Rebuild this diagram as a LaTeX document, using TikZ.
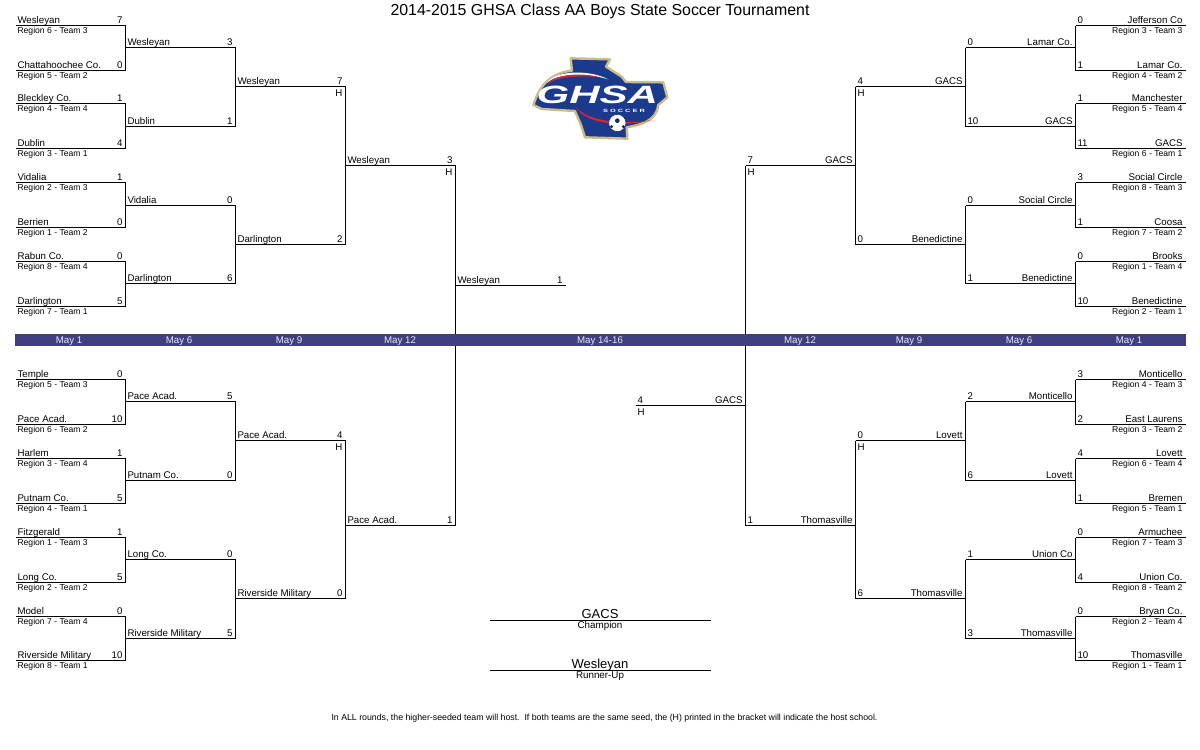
\documentclass[tikz,border=0pt]{standalone}
\usepackage{fontspec}
\setmainfont{Liberation Sans}
\definecolor{band}{HTML}{3F3F7F}
\definecolor{lgblue}{HTML}{1B3A8C}
\definecolor{lgnavy}{HTML}{14286E}
\definecolor{lggold}{HTML}{C9BC8A}
\definecolor{lgred}{HTML}{D8243A}
\tikzset{
  txt/.style={inner sep=0pt,outer sep=0pt,font=\fontsize{9.7}{10}\selectfont,text=black},
  sub/.style={inner sep=0pt,outer sep=0pt,font=\fontsize{8.6}{9}\selectfont,text=black},
  wire/.style={draw=black,line width=1pt,line cap=square},
  datelab/.style={inner sep=0pt,font=\fontsize{9.7}{10}\selectfont,text=white!88!band,anchor=base}
}
% left-side slot: id, x1, x2, y, name, score
\newcommand\slotW[6]{%
  \coordinate (#1-a) at (#2,#4+.5);
  \coordinate (#1-b) at (#3,#4+.5);
  \draw[wire] (#1-a) -- (#1-b);
  \node[txt,anchor=base west] (#1-t) at ([shift={(2,-2)}]#1-a) {#5};
  \node[txt,anchor=base east] (#1-s) at ([shift={(-3,-2)}]#1-b) {#6};
}
% right-side slot: id, x1, x2, y, name, score
\newcommand\slotE[6]{%
  \coordinate (#1-a) at (#2,#4+.5);
  \coordinate (#1-b) at (#3,#4+.5);
  \draw[wire] (#1-a) -- (#1-b);
  \node[txt,anchor=base east] (#1-t) at ([shift={(-3,-2)}]#1-b) {#5};
  \node[txt,anchor=base west] (#1-s) at ([shift={(2,-2)}]#1-a) {#6};
}
\newcommand\teamW[6]{\slotW{#1}{15.5}{125.5}{#2}{#3}{#4}%
  \node[sub,anchor=base west] (#1-r) at ([shift={(2,8)}]#1-a) {Region #5 - Team #6};}
\newcommand\teamE[6]{\slotE{#1}{1075.5}{1185.5}{#2}{#3}{#4}%
  \node[sub,anchor=base east] (#1-r) at ([shift={(-3,8)}]#1-b) {Region #5 - Team #6};}
\newcommand\hostW[1]{\node[txt,anchor=base east] (#1-h) at ([shift={(-3,9.5)}]#1-b) {H};}
\newcommand\hostE[1]{\node[txt,anchor=base west] (#1-h) at ([shift={(2,9.5)}]#1-a) {H};}
\begin{document}
\begin{tikzpicture}[x=1pt,y=-1pt]
\useasboundingbox[fill=white] (0,0) rectangle (1200,750);
\node[inner sep=0pt,anchor=base,font=\fontsize{15.9}{18}\selectfont] (title) at (600,15) {2014-2015 GHSA Class AA Boys State Soccer Tournament};

% ---------- left top
\teamW{a1}{25}{Wesleyan}{7}{6}{3}
\teamW{a2}{70}{Chattahoochee Co.}{0}{5}{2}
\teamW{a3}{103}{Bleckley Co.}{1}{4}{4}
\teamW{a4}{148}{Dublin}{4}{3}{1}
\teamW{a5}{182}{Vidalia}{1}{2}{3}
\teamW{a6}{227}{Berrien}{0}{1}{2}
\teamW{a7}{261}{Rabun Co.}{0}{8}{4}
\teamW{a8}{306}{Darlington}{5}{7}{1}
\slotW{b1}{125.5}{235.5}{47}{Wesleyan}{3}
\slotW{b2}{125.5}{235.5}{126}{Dublin}{1}
\slotW{b3}{125.5}{235.5}{205}{Vidalia}{0}
\slotW{b4}{125.5}{235.5}{283}{Darlington}{6}
\slotW{c1}{235.5}{345.5}{86}{Wesleyan}{7}\hostW{c1}
\slotW{c2}{235.5}{345.5}{244}{Darlington}{2}
\slotW{d1}{345.5}{455.5}{165}{Wesleyan}{3}\hostW{d1}
\slotW{f1}{455.5}{565.5}{285}{Wesleyan}{1}
% ---------- left bottom
\teamW{g1}{379}{Temple}{0}{5}{3}
\teamW{g2}{424}{Pace Acad.}{10}{6}{2}
\teamW{g3}{458}{Harlem}{1}{3}{4}
\teamW{g4}{503}{Putnam Co.}{5}{4}{1}
\teamW{g5}{537}{Fitzgerald}{1}{1}{3}
\teamW{g6}{582}{Long Co.}{5}{2}{2}
\teamW{g7}{616}{Model}{0}{7}{4}
\teamW{g8}{660}{Riverside Military}{10}{8}{1}
\slotW{h1}{125.5}{235.5}{401}{Pace Acad.}{5}
\slotW{h2}{125.5}{235.5}{480}{Putnam Co.}{0}
\slotW{h3}{125.5}{235.5}{559}{Long Co.}{0}
\slotW{h4}{125.5}{235.5}{638}{Riverside Military}{5}
\slotW{i1}{235.5}{345.5}{440}{Pace Acad.}{4}\hostW{i1}
\slotW{i2}{235.5}{345.5}{598}{Riverside Military}{0}
\slotW{j1}{345.5}{455.5}{525}{Pace Acad.}{1}
% ---------- right top
\teamE{k1}{25}{Jefferson Co}{0}{3}{3}
\teamE{k2}{70}{Lamar Co.}{1}{4}{2}
\teamE{k3}{103}{Manchester}{1}{5}{4}
\teamE{k4}{148}{GACS}{11}{6}{1}
\teamE{k5}{182}{Social Circle}{3}{8}{3}
\teamE{k6}{227}{Coosa}{1}{7}{2}
\teamE{k7}{261}{Brooks}{0}{1}{4}
\teamE{k8}{306}{Benedictine}{10}{2}{1}
\slotE{l1}{965.5}{1075.5}{47}{Lamar Co.}{0}
\slotE{l2}{965.5}{1075.5}{126}{GACS}{10}
\slotE{l3}{965.5}{1075.5}{205}{Social Circle}{0}
\slotE{l4}{965.5}{1075.5}{283}{Benedictine}{1}
\slotE{m1}{855.5}{965.5}{86}{GACS}{4}\hostE{m1}
\slotE{m2}{855.5}{965.5}{244}{Benedictine}{0}
\slotE{n1}{745.5}{855.5}{165}{GACS}{7}\hostE{n1}
\slotE{o1}{635.5}{745.5}{405}{GACS}{4}\hostE{o1}
% ---------- right bottom
\teamE{p1}{379}{Monticello}{3}{4}{3}
\teamE{p2}{424}{East Laurens}{2}{3}{2}
\teamE{p3}{458}{Lovett}{4}{6}{4}
\teamE{p4}{503}{Bremen}{1}{5}{1}
\teamE{p5}{537}{Armuchee}{0}{7}{3}
\teamE{p6}{582}{Union Co.}{4}{8}{2}
\teamE{p7}{616}{Bryan Co.}{0}{2}{4}
\teamE{p8}{660}{Thomasville}{10}{1}{1}
\slotE{q1}{965.5}{1075.5}{401}{Monticello}{2}
\slotE{q2}{965.5}{1075.5}{480}{Lovett}{6}
\slotE{q3}{965.5}{1075.5}{559}{Union Co}{1}
\slotE{q4}{965.5}{1075.5}{638}{Thomasville}{3}
\slotE{r1}{855.5}{965.5}{440}{Lovett}{0}\hostE{r1}
\slotE{r2}{855.5}{965.5}{598}{Thomasville}{6}
\slotE{s1}{745.5}{855.5}{525}{Thomasville}{1}

% ---------- vertical connectors
\foreach \u/\v in {a1/a2,a3/a4,a5/a6,a7/a8,b1/b2,b3/b4,c1/c2,d1/j1,g1/g2,g3/g4,g5/g6,g7/g8,h1/h2,h3/h4,i1/i2}
  \draw[wire] (\u-b) -- (\v-b);
\foreach \u/\v in {k1/k2,k3/k4,k5/k6,k7/k8,l1/l2,l3/l4,m1/m2,n1/s1,p1/p2,p3/p4,p5/p6,p7/p8,q1/q2,q3/q4,r1/r2}
  \draw[wire] (\u-a) -- (\v-a);

% ---------- date band
\fill[band] (15,334) rectangle (1186,346);
\foreach \i/\x/\d in {1/69/May 1,2/179/May 6,3/289/May 9,4/400/May 12,5/600/May 14-16,6/800/May 12,7/909/May 9,8/1019/May 6,9/1129/May 1}
  \node[datelab] (date\i) at (\x,343.5) {\d};

% ---------- results
\coordinate (cha) at (490,620.5); \coordinate (chb) at (711,620.5);
\draw[wire,line cap=butt] (cha) -- (chb);
\node[inner sep=0pt,anchor=base,font=\fontsize{13}{14}\selectfont] (champ) at (600,618) {GACS};
\node[sub,anchor=base,font=\fontsize{9.8}{10}\selectfont] (champl) at (600,628) {Champion};
\coordinate (rua) at (490,670.5); \coordinate (rub) at (711,670.5);
\draw[wire,line cap=butt] (rua) -- (rub);
\node[inner sep=0pt,anchor=base,font=\fontsize{13}{14}\selectfont] (runner) at (600,668) {Wesleyan};
\node[sub,anchor=base,font=\fontsize{9.8}{10}\selectfont] (runnerl) at (600,678) {Runner-Up};
\node[sub,anchor=base,font=\fontsize{8.77}{9}\selectfont] (foot) at (604.5,720) {In ALL rounds, the higher-seeded team will host.\ \ If both teams are the same seed, the (H) printed in the bracket will indicate the host school.};

% ---------- logo
\begin{scope}[shift={(510,40)},x=.3333pt,y=-.3333pt]
\path[fill=lgblue,draw=lggold,line width=2.4pt,line join=round]
  (182,55) -- (300,58) -- (288,80) -- (335,110) -- (348,126) -- (460,127) -- (472,172) -- (445,195)
  .. controls (440,225) and (425,250) .. (350,262) -- (352,296) -- (225,292) -- (213,255) -- (195,213)
  -- (95,207) -- (70,195) .. controls (85,150) and (110,100) .. (186,92) -- cycle;
\fill[white] (112,128) .. controls (130,95) and (230,85) .. (295,118) .. controls (230,98) and (140,100) .. cycle;
\fill[lgred] (112,132) .. controls (130,105) and (210,95) .. (270,112) .. controls (210,105) and (140,110) .. cycle;
\fill[lgred] (195,198) .. controls (230,245) and (340,255) .. (425,240) .. controls (340,262) and (225,255) .. cycle;
\node[inner sep=0pt,font=\fontsize{25}{26}\bfseries\itshape\selectfont,text=white,xscale=1.68,transform shape] (logot) at (262,166) {GHSA};
\node[inner sep=0pt,font=\fontsize{4.6}{5}\bfseries\selectfont,text=white,xscale=1.6,transform shape] (logos) at (342,212) {S O C C E R};
\fill[white,draw=lgnavy,line width=.6pt] (322,249) circle (26);
\fill[lgnavy] (322,242) circle (7) (305,260) circle (5) (340,260) circle (5);
\end{scope}
\end{tikzpicture}
\end{document}
